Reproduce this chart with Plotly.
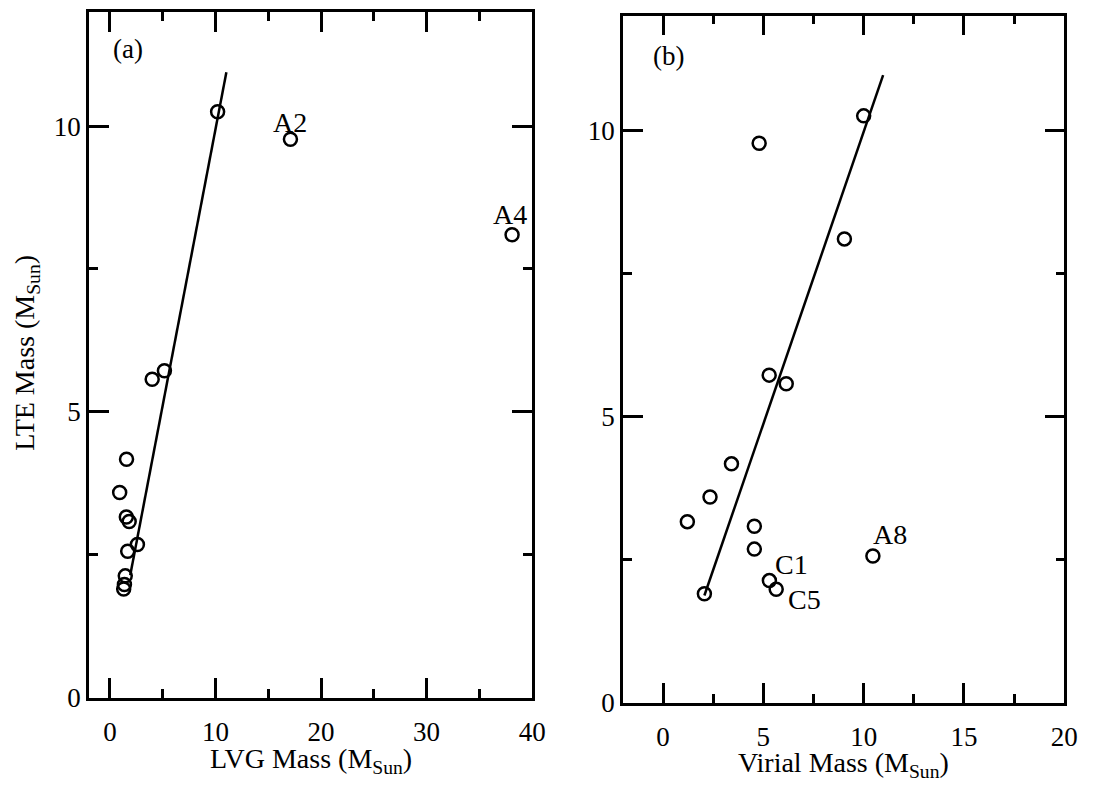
import plotly.graph_objects as go

# LTE mass of each clump (M_Sun), shared by both panels
lte_mass = [10.25, 9.77, 8.10, 5.72, 5.57, 4.17, 3.59, 3.16, 3.08, 2.68, 2.56, 2.13, 1.98, 1.90]
# LVG mass (M_Sun), same order
lvg_mass = [10.2, 17.1, 38.1, 5.16, 4.0, 1.57, 0.92, 1.55, 1.82, 2.6, 1.68, 1.45, 1.37, 1.30]
# Virial mass (M_Sun), same order
virial_mass = [10.0, 4.79, 9.04, 5.29, 6.14, 3.41, 2.34, 1.21, 4.55, 4.55, 10.46, 5.30, 5.64, 2.06]

# Clump names shown beside outliers
labels_lvg = ["", "A2", "A4", "", "", "", "", "", "", "", "", "", "", ""]
labels_virial = ["", "", "", "", "", "", "", "", "", "", "A8", "C1", "C5", ""]

# Fitted relations (end points in data units)
fit_lvg_x = [1.92, 11.03]
fit_lvg_y = [2.14, 10.94]
fit_vir_x = [2.06, 10.97]
fit_vir_y = [1.87, 10.96]

# Axis ticks
lvg_ticks = [0, 10, 20, 30, 40]
vir_ticks = [0, 5, 10, 15, 20]
lte_ticks = [0, 5, 10]

FONT = "Liberation Serif, Times New Roman, serif"
W, H = 1098, 796

# pixel offsets of name labels relative to their points
label_shift = {"A2": (0, 17), "A4": (-2, 20), "A8": (17, 21), "C1": (22, 16), "C5": (28, -10)}

fig = go.Figure()

marker = dict(symbol="circle-open", size=13, color="black", line=dict(width=2.5, color="black"))

fig.add_trace(go.Scatter(x=fit_lvg_x, y=fit_lvg_y, mode="lines",
                         line=dict(color="black", width=2.5), xaxis="x", yaxis="y",
                         showlegend=False, hoverinfo="skip"))
fig.add_trace(go.Scatter(x=lvg_mass, y=lte_mass, mode="markers", marker=marker,
                         xaxis="x", yaxis="y", showlegend=False))
fig.add_trace(go.Scatter(x=fit_vir_x, y=fit_vir_y, mode="lines",
                         line=dict(color="black", width=2.5), xaxis="x2", yaxis="y2",
                         showlegend=False, hoverinfo="skip"))
fig.add_trace(go.Scatter(x=virial_mass, y=lte_mass, mode="markers", marker=marker,
                         xaxis="x2", yaxis="y2", showlegend=False))

def px_x(p):
    return p / W

def px_y(p):
    return 1 - p / H

axis_common = dict(
    showgrid=False, zeroline=False, showline=True, linecolor="black", linewidth=2.5,
    mirror="ticks", ticks="inside", ticklen=20, tickwidth=2.5, tickcolor="black",
    tickfont=dict(family=FONT, size=27, color="black"),
)
minor_common = dict(ticklen=9, tickwidth=2.5, tickcolor="black", ticks="inside")

fig.update_layout(
    width=W, height=H,
    margin=dict(l=0, r=0, t=0, b=0),
    paper_bgcolor="white", plot_bgcolor="white",
    font=dict(family=FONT, size=27, color="black"),
    xaxis=dict(domain=[px_x(90), px_x(539)], range=[-2, 40], anchor="y",
               tickvals=lvg_ticks, ticklabelstandoff=8,
               minor=dict(dtick=5, **minor_common), **axis_common),
    yaxis=dict(domain=[px_y(711), px_y(12)], range=[0, 12], anchor="x",
               tickvals=lte_ticks, ticklabelstandoff=0,
               minor=dict(dtick=2.5, **minor_common), **axis_common),
    xaxis2=dict(domain=[px_x(631), px_x(1078)], range=[-2, 20], anchor="y2",
                tickvals=vir_ticks, ticklabelstandoff=8,
                minor=dict(dtick=2.5, **minor_common), **axis_common),
    yaxis2=dict(domain=[px_y(716), px_y(16)], range=[0, 12], anchor="x2",
                tickvals=lte_ticks, ticklabelstandoff=0,
                minor=dict(dtick=2.5, **minor_common), **axis_common),
)

def note(size=28, **kw):
    base = dict(showarrow=False, xanchor="center", yanchor="middle",
                font=dict(family=FONT, size=size, color="black"))
    base.update(kw)
    return base

annotations = []
for xs, labels, xr, yr in ((lvg_mass, labels_lvg, "x", "y"), (virial_mass, labels_virial, "x2", "y2")):
    for xv, yv, name in zip(xs, lte_mass, labels):
        if name:
            dx, dy = label_shift[name]
            annotations.append(note(x=xv, y=yv, xref=xr, yref=yr, text=name, xshift=dx, yshift=dy))

# panel tags
annotations.append(note(size=27, x=px_x(130), y=px_y(50), xref="paper", yref="paper", text="(a)"))
annotations.append(note(size=27, x=px_x(677), y=px_y(57), xref="paper", yref="paper", text="(b)"))

# axis titles
annotations.append(note(x=px_x(315), y=px_y(775), xref="paper", yref="paper",
                        text="LVG Mass (M<sub>Sun</sub>)"))
annotations.append(note(x=px_x(854), y=px_y(779), xref="paper", yref="paper",
                        text="Virial Mass (M<sub>Sun</sub>)"))
annotations.append(note(x=px_x(27), y=px_y(360), xref="paper", yref="paper",
                        text="LTE Mass (M<sub>Sun</sub>)", textangle=-90))

fig.update_layout(annotations=annotations)

fig.write_html("out.html")
